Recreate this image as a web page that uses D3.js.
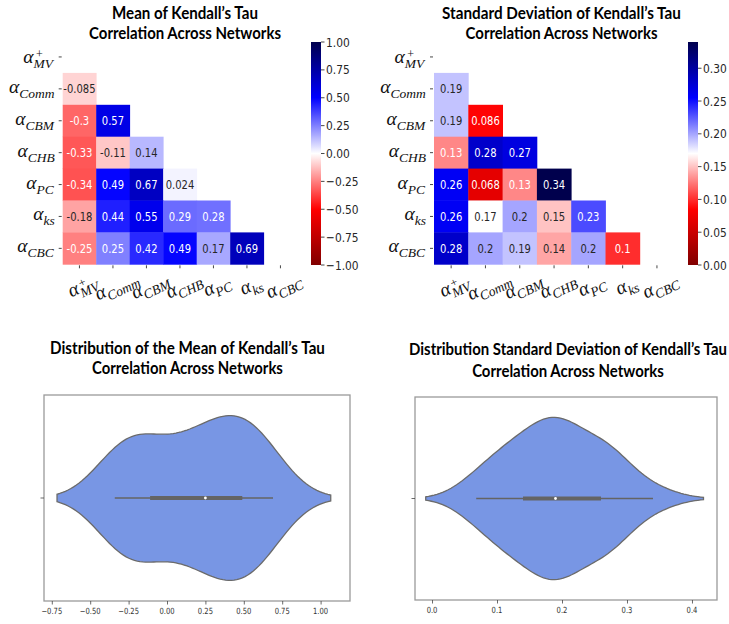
<!DOCTYPE html>
<html><head><meta charset="utf-8">
<script src="https://cdn.jsdelivr.net/npm/d3@7"></script>
<style>
html,body{margin:0;padding:0;background:#fff;}
svg{display:block;}
</style></head>
<body>
<svg id="chart" width="729" height="624"></svg>
<script>
// ---------- DATA ----------
const varLabels = ["MV", "Comm", "CBM", "CHB", "PC", "ks", "CBC"];
const varSup = ["+", "", "", "", "", "", ""];
// lower triangle (row i, columns 0..i-1)
const meanRows = [
  [],
  [-0.085],
  [-0.3, 0.57],
  [-0.33, -0.11, 0.14],
  [-0.34, 0.49, 0.67, 0.024],
  [-0.18, 0.44, 0.55, 0.29, 0.28],
  [-0.25, 0.25, 0.42, 0.49, 0.17, 0.69]
];
const stdRows = [
  [],
  [0.19],
  [0.19, 0.086],
  [0.13, 0.28, 0.27],
  [0.26, 0.068, 0.13, 0.34],
  [0.26, 0.17, 0.2, 0.15, 0.23],
  [0.28, 0.2, 0.19, 0.14, 0.2, 0.1]
];
const meanColorbarTicks = [-1.0, -0.75, -0.5, -0.25, 0.0, 0.25, 0.5, 0.75, 1.0];
const stdColorbarTicks = [0.0, 0.05, 0.10, 0.15, 0.20, 0.25, 0.30];
const meanViolinTicks = [-0.75, -0.5, -0.25, 0.0, 0.25, 0.5, 0.75, 1.0];
const stdViolinTicks = [0.0, 0.1, 0.2, 0.3, 0.4];
const titles = {
  meanHeat: ["Mean of Kendall\u2019s Tau", "Correlation Across Networks"],
  stdHeat: ["Standard Deviation of Kendall\u2019s Tau", "Correlation Across Networks"],
  meanViolin: ["Distribution of the Mean of Kendall\u2019s Tau", "Correlation Across Networks"],
  stdViolin: ["Distribution Standard Deviation of Kendall\u2019s Tau", "Correlation Across Networks"]
};

// ---------- HELPERS ----------
const svg = d3.select("#chart");
const TITLE_FONT = "Lato, 'Open Sans', sans-serif";
const NUM_FONT = "'DejaVu Sans', sans-serif";
const MATH_FONT = "'Liberation Serif', 'DejaVu Serif', serif";

// matplotlib "seismic" reversed
const seismicStops = [[0, 0, 0.3], [0, 0, 1], [1, 1, 1], [1, 0, 0], [0.5, 0, 0]];
function seismicR(t) {
  t = Math.max(0, Math.min(1, t));
  const s = 1 - t;
  const p = s * 4;
  const i = Math.min(3, Math.floor(p));
  const f = p - i;
  const a = seismicStops[i], b = seismicStops[i + 1];
  return [0, 1, 2].map(k => a[k] + (b[k] - a[k]) * f);
}
function rgbStr(c) { return d3.rgb(c[0] * 255, c[1] * 255, c[2] * 255).formatHex(); }
function lum(c) {
  const lin = v => v <= 0.03928 ? v / 12.92 : Math.pow((v + 0.055) / 1.055, 2.4);
  return 0.2126 * lin(c[0]) + 0.7152 * lin(c[1]) + 0.0722 * lin(c[2]);
}

// narrow text: a group scaled horizontally
function narrowText(parent, x, y, str, size, fill, anchor, sx) {
  const g = parent.append("g").attr("transform", `translate(${x},${y}) scale(${sx},1)`);
  g.append("text").attr("text-anchor", anchor).attr("font-family", NUM_FONT)
    .attr("font-size", size).attr("fill", fill).text(str);
  return g;
}

function mathLabel(g, sub, sup) {
  const t = g.append("text").attr("font-family", MATH_FONT).attr("font-style", "italic").attr("fill", "#111");
  const a = t.append("tspan").attr("font-size", 19.5).text("\u03b1");
  const aw = a.node().getComputedTextLength();
  if (sup) {
    t.append("tspan").attr("font-size", 12).attr("font-style", "normal").attr("x", aw + 2.5).attr("dy", -5).text(sup);
    t.append("tspan").attr("font-size", 13.5).attr("x", aw).attr("dy", 10).text(sub);
  } else {
    t.append("tspan").attr("font-size", 13.5).attr("dy", 5).text(sub);
  }
  return g.node().getBBox();
}

// title lines squeezed horizontally to the reference width
function title(lines, cx, y1, y2, size, w1, w2) {
  [[lines[0], y1, w1], [lines[1], y2, w2]].forEach(([txt, y, w]) => {
    const g = svg.append("g");
    const t = g.append("text").attr("text-anchor", "middle")
      .attr("font-family", TITLE_FONT).attr("font-weight", "bold").attr("font-size", size)
      .attr("fill", "#000").text(txt);
    const nat = t.node().getComputedTextLength();
    g.attr("transform", `translate(${cx},${y}) scale(${w / nat},1)`);
  });
}

// ---------- HEATMAP ----------
function drawHeatmap(o) {
  const n = varLabels.length;
  const x = d3.scaleBand().domain(d3.range(n)).range([o.x0, o.x0 + n * o.cw]);
  const y = d3.scaleBand().domain(d3.range(n)).range([o.y0, o.y0 + n * o.ch]);
  const tScale = d3.scaleLinear().domain(o.domain).range([0, 1]);
  const g = svg.append("g");
  const cells = [];
  o.rows.forEach((row, i) => row.forEach((v, j) => cells.push({ i, j, v })));
  cells.forEach(d => {
    const c = seismicR(tScale(d.v));
    g.append("rect").attr("x", x(d.j)).attr("y", y(d.i))
      .attr("width", x.bandwidth() + 0.4).attr("height", y.bandwidth() + 0.4)
      .attr("fill", rgbStr(c));
  });
  cells.forEach(d => {
    const c = seismicR(tScale(d.v));
    narrowText(g, x(d.j) + x.bandwidth() / 2, y(d.i) + y.bandwidth() / 2 + 4.5, String(d.v), 12.5,
      lum(c) > 0.408 ? "#262626" : "#ffffff", "middle", 0.8);
  });
  // y ticks + labels
  d3.range(n).forEach(i => {
    const cy = y(i) + y.bandwidth() / 2;
    g.append("line").attr("x1", o.x0 - 4).attr("x2", o.x0 - 1).attr("y1", cy).attr("y2", cy)
      .attr("stroke", "#333").attr("stroke-width", 0.9);
    const lg = g.append("g");
    const bb = mathLabel(lg, varLabels[i], varSup[i]);
    lg.attr("transform", `translate(${o.x0 - 8 - bb.width},${cy + (varSup[i] ? 6 : 4)})`);
  });
  // x ticks + labels
  const yb = o.y0 + n * o.ch;
  d3.range(n).forEach(j => {
    const cx = x(j) + x.bandwidth() / 2;
    g.append("line").attr("x1", cx).attr("x2", cx).attr("y1", yb + 1).attr("y2", yb + 4)
      .attr("stroke", "#333").attr("stroke-width", 0.9);
    const outer = g.append("g").attr("transform", `translate(${cx + 4},${yb + 22}) rotate(-25)`);
    const lg = outer.append("g");
    const bb = mathLabel(lg, varLabels[j], varSup[j]);
    lg.attr("transform", `translate(${-bb.width / 2},5)`);
  });
  // colorbar
  const cbScale = d3.scaleLinear().domain(o.domain).range([o.cbY1, o.cbY0]);
  const gid = "grad" + o.id;
  const grad = svg.append("defs").append("linearGradient").attr("id", gid)
    .attr("x1", 0).attr("x2", 0).attr("y1", 1).attr("y2", 0);
  d3.range(0, 101).forEach(k => {
    grad.append("stop").attr("offset", k / 100).attr("stop-color", rgbStr(seismicR(k / 100)));
  });
  g.append("rect").attr("x", o.cbX).attr("y", o.cbY0).attr("width", o.cbW).attr("height", o.cbY1 - o.cbY0)
    .attr("fill", `url(#${gid})`);
  o.cbTicks.forEach(v => {
    const ty = cbScale(v);
    g.append("line").attr("x1", o.cbX + o.cbW).attr("x2", o.cbX + o.cbW + 3.5).attr("y1", ty).attr("y2", ty)
      .attr("stroke", "#333").attr("stroke-width", 0.9);
    narrowText(g, o.cbX + o.cbW + 5, ty + 4.5, o.cbFmt(v), 13, "#262626", "start", 0.82);
  });
}

const minusFmt = f => v => d3.format(f)(v).replace("-", "\u2212").replace("\u2212" + "0.00", "0.00");

title(titles.meanHeat, 185, 19, 39, 16.5, 146, 192);
title(titles.stdHeat, 561.5, 19, 39, 16.5, 239, 192);

drawHeatmap({ id: 1, x0: 62.7, cw: 33.5, y0: 41, ch: 31.9, rows: meanRows, domain: [-1, 1],
  cbX: 311, cbW: 10, cbY0: 42, cbY1: 265, cbTicks: meanColorbarTicks, cbFmt: minusFmt(".2f") });
drawHeatmap({ id: 2, x0: 434, cw: 34.3, y0: 41, ch: 31.9, rows: stdRows,
  domain: [0, d3.max(stdRows.flat())],
  cbX: 688, cbW: 10, cbY0: 42, cbY1: 265, cbTicks: stdColorbarTicks, cbFmt: d3.format(".2f") });

// ---------- VIOLINS ----------
function drawViolin(o) {
  const vals = o.rows.flat().slice().sort((a, b) => a - b);
  const n = vals.length;
  const sd = d3.deviation(vals);
  const bw = sd * Math.pow(n, -1 / 5); // Scott
  const lo = vals[0] - 2 * bw, hi = vals[n - 1] + 2 * bw;
  const grid = d3.range(0, 100).map(k => lo + (hi - lo) * k / 99);
  const dens = grid.map(gx => d3.sum(vals, v => Math.exp(-0.5 * ((gx - v) / bw) ** 2)) / (n * bw * Math.sqrt(2 * Math.PI)));
  const maxD = d3.max(dens);
  const x = d3.scaleLinear().domain(o.domain).range([o.fx0, o.fx1]);
  const yCat = d3.scaleLinear().domain([-0.5, 0.5]).range([o.fy0, o.fy1]);
  const g = svg.append("g");
  const pts = grid.map((gx, k) => ({ x: gx, w: 0.4 * dens[k] / maxD }));
  const area = d3.area().x(d => x(d.x)).y0(d => yCat(-d.w)).y1(d => yCat(d.w)).curve(d3.curveLinear);
  g.append("path").datum(pts).attr("d", area).attr("fill", "#7896e4")
    .attr("stroke", "#6b6b6b").attr("stroke-width", 1.3);
  const cy = yCat(0);
  const q1 = d3.quantile(vals, 0.25), med = d3.quantile(vals, 0.5), q3 = d3.quantile(vals, 0.75);
  g.append("line").attr("x1", x(vals[0])).attr("x2", x(vals[n - 1])).attr("y1", cy).attr("y2", cy)
    .attr("stroke", "#646464").attr("stroke-width", 1.3);
  g.append("line").attr("x1", x(q1)).attr("x2", x(q3)).attr("y1", cy).attr("y2", cy)
    .attr("stroke", "#646464").attr("stroke-width", 4.2);
  g.append("circle").attr("cx", x(med)).attr("cy", cy).attr("r", 1.4).attr("fill", "#fff");
  // frame
  g.append("rect").attr("x", o.fx0).attr("y", o.fy0).attr("width", o.fx1 - o.fx0).attr("height", o.fy1 - o.fy0)
    .attr("fill", "none").attr("stroke", "#9a9a9a").attr("stroke-width", 1.3);
  // y tick
  g.append("line").attr("x1", o.fx0 - 3.5).attr("x2", o.fx0).attr("y1", cy).attr("y2", cy)
    .attr("stroke", "#444").attr("stroke-width", 0.8);
  // x axis
  const ax = g.append("g").attr("transform", `translate(0,${o.fy1})`)
    .call(d3.axisBottom(x).tickValues(o.ticks).tickFormat(() => "").tickSize(3.5));
  ax.select(".domain").remove();
  ax.selectAll(".tick line").attr("stroke", "#444").attr("stroke-width", 0.8);
  o.ticks.forEach(v => narrowText(g, x(v), o.fy1 + 13, o.fmt(v), 8.5, "#333", "middle", 0.8));
}

title(titles.meanViolin, 187.5, 354, 374, 17, 275, 191);
title(titles.stdViolin, 568, 355, 376.5, 17, 318, 192);

drawViolin({ rows: meanRows, domain: [-0.8008, 1.1914], fx0: 44, fx1: 350, fy0: 395, fy1: 601,
  ticks: meanViolinTicks, fmt: minusFmt(".2f") });
drawViolin({ rows: stdRows, domain: [-0.0262, 0.4385], fx0: 415, fx1: 717, fy0: 397, fy1: 600,
  ticks: stdViolinTicks, fmt: d3.format(".1f") });
</script>
</body></html>
